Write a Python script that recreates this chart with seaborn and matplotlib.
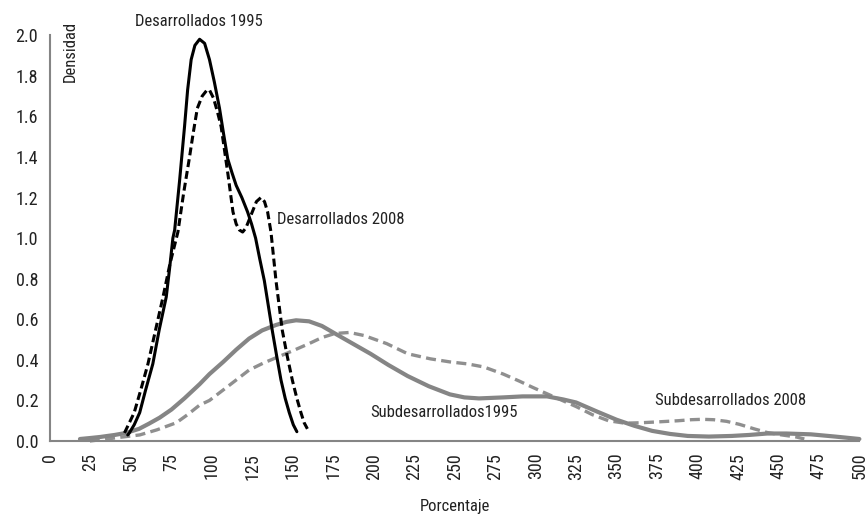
import matplotlib
matplotlib.use('Agg')
import matplotlib.pyplot as plt
import seaborn as sns
import pandas as pd

# curvas de densidad
des95_x = [48, 49, 52, 55.4, 59, 63.5, 67.5, 71.8, 74, 75.9, 77, 80, 83.1, 85, 87.2, 89.5, 92.4, 95.5, 98.5, 101.5,
           104.7, 107.3, 109.8, 112.5, 115, 118.5, 122, 124.5, 127, 129.5, 132.4, 135, 137.3, 140, 142.7, 145.3,
           147.8, 150.3, 152.5]
des95_y = [0.03, 0.04, 0.08, 0.14, 0.25, 0.38, 0.55, 0.71, 0.86, 1.0, 1.04, 1.28, 1.55, 1.73, 1.88, 1.95, 1.98, 1.96,
           1.88, 1.77, 1.64, 1.51, 1.39, 1.32, 1.26, 1.20, 1.13, 1.07, 1.0, 0.90, 0.79, 0.66, 0.545, 0.42, 0.30, 0.21,
           0.14, 0.08, 0.046]

des08_x = [46, 49, 52, 56, 60.5, 65, 69.8, 74, 79, 82.5, 86, 88.5, 91, 94, 97, 98.5, 101, 103.5, 105.7, 110, 113, 115,
           117, 119, 121, 123, 125, 127.5, 130.3, 132.5, 134.4, 136.5, 139.6, 141.5, 143.5, 146.5, 149.7, 152.5, 155,
           157, 159]
des08_y = [0.04, 0.09, 0.14, 0.25, 0.38, 0.54, 0.71, 0.87, 1.03, 1.22, 1.39, 1.52, 1.64, 1.70, 1.73, 1.73, 1.69, 1.62,
           1.55, 1.31, 1.13, 1.07, 1.04, 1.03, 1.05, 1.09, 1.13, 1.18, 1.20, 1.18, 1.13, 1.03, 0.79, 0.67, 0.545, 0.42,
           0.30, 0.21, 0.14, 0.09, 0.06]

sub95_x = [18.5, 25, 31, 40, 47, 55, 61, 67.7, 75, 83, 92.4, 98.5, 107, 115, 123, 131, 139.6, 146, 152, 160, 168, 176,
           187, 198, 209, 221, 234, 247, 256, 265, 280, 292, 307, 317, 325, 338, 350, 361, 372, 383, 394, 407, 421,
           432, 443, 455, 470, 485, 500]
sub95_y = [0.01, 0.015, 0.02, 0.03, 0.04, 0.06, 0.085, 0.115, 0.155, 0.21, 0.28, 0.33, 0.39, 0.45, 0.505, 0.545, 0.572,
           0.587, 0.595, 0.59, 0.567, 0.53, 0.48, 0.43, 0.375, 0.32, 0.27, 0.23, 0.215, 0.21, 0.215, 0.22, 0.22, 0.205,
           0.19, 0.145, 0.105, 0.075, 0.05, 0.035, 0.025, 0.022, 0.025, 0.03, 0.037, 0.037, 0.033, 0.022, 0.01]

sub08_x = [24.6, 35, 45, 55.4, 66, 78, 85, 92.4, 98.5, 110, 123, 132, 141, 150, 160, 168, 176, 185, 194, 208, 221, 235,
           247, 258, 268, 280, 290, 298, 305, 315, 325, 335, 345, 355, 365, 377, 388, 396, 403, 410, 418, 426, 435,
           443, 452, 461, 466]
sub08_y = [0.0, 0.01, 0.02, 0.03, 0.055, 0.09, 0.13, 0.177, 0.20, 0.27, 0.35, 0.385, 0.415, 0.445, 0.48, 0.51, 0.53,
           0.535, 0.52, 0.48, 0.43, 0.405, 0.39, 0.38, 0.365, 0.33, 0.295, 0.265, 0.24, 0.205, 0.17, 0.13, 0.10, 0.088,
           0.09, 0.095, 0.10, 0.105, 0.107, 0.105, 0.097, 0.082, 0.06, 0.042, 0.03, 0.02, 0.01]

ticks_x = list(range(0, 501, 25))
ticks_y = [0.0, 0.2, 0.4, 0.6, 0.8, 1.0, 1.2, 1.4, 1.6, 1.8, 2.0]

sns.set_style('white')
plt.rcParams['font.family'] = ['Roboto Condensed', 'Liberation Sans Narrow', 'DejaVu Sans']
plt.rcParams['font.stretch'] = 'condensed'

fig = plt.figure(figsize=(8.67, 5.18), dpi=100)
ax = fig.add_axes([0.0577, 0.1486, 0.9335, 0.7834])

gris = '#858585'
texto = '#222222'
sns.lineplot(x=sub08_x, y=sub08_y, ax=ax, color='#8f8f8f', lw=2.4, sort=False, linestyle=(0, (3.0, 1.6)))
sns.lineplot(x=sub95_x, y=sub95_y, ax=ax, color=gris, lw=3.0, sort=False)
sns.lineplot(x=des08_x, y=des08_y, ax=ax, color='black', lw=2.2, sort=False, linestyle=(0, (2.6, 1.3)))
sns.lineplot(x=des95_x, y=des95_y, ax=ax, color='black', lw=2.2, sort=False)
for l in ax.lines:
    l.set_clip_on(False)
    l.set_solid_joinstyle('round')
    l.set_dash_joinstyle('round')

ax.set_xlim(0, 500)
ax.set_ylim(0, 2.0)
ax.set_xticks(ticks_x)
ax.set_xticklabels([str(t) for t in ticks_x], rotation=90)
ax.set_yticks(ticks_y)
ax.set_yticklabels(['%.1f' % t for t in ticks_y])
ax.tick_params(axis='both', direction='out', length=5, width=1.2, color=gris,
               labelsize=13, labelcolor=texto)
for s in ['top', 'right']:
    ax.spines[s].set_visible(False)
for s in ['left', 'bottom']:
    ax.spines[s].set_color(gris)
    ax.spines[s].set_linewidth(1.5)

ax.set_xlabel('Porcentaje', fontsize=12, color=texto, labelpad=14)
ax.set_ylabel('')
ax.text(0.025, 1.035, 'Densidad', transform=ax.transAxes, rotation=90,
        fontsize=12, color=texto, ha='center', va='top')

ax.text(92, 2.07, 'Desarrollados 1995', fontsize=12, color=texto, ha='center', va='center', clip_on=False)
ax.text(140, 1.09, 'Desarrollados 2008', fontsize=12, color=texto, ha='left', va='center')
ax.text(198, 0.14, 'Subdesarrollados1995', fontsize=12, color=texto, ha='left', va='center')
ax.text(374, 0.20, 'Subdesarrollados 2008', fontsize=12, color=texto, ha='left', va='center')

plt.savefig('out.png', dpi=100)
